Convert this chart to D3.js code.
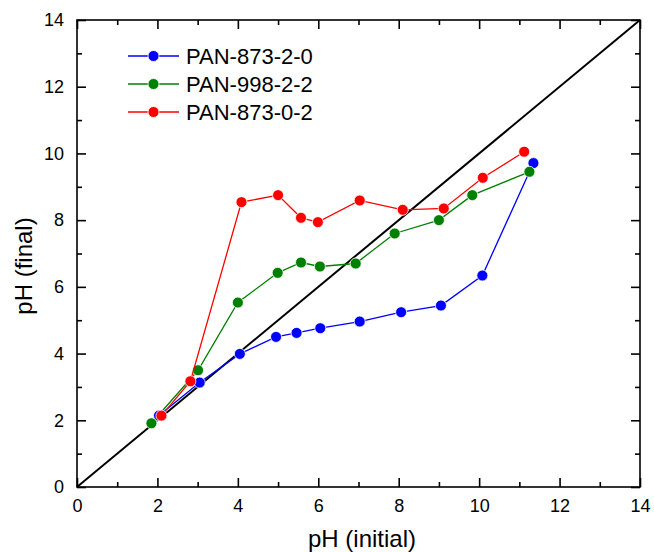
<!DOCTYPE html>
<html>
<head>
<meta charset="utf-8">
<script src="https://cdn.jsdelivr.net/npm/d3@7"></script>
<style>
  body { margin: 0; background: #fff; }
  text { font-family: Arial, "Liberation Sans", sans-serif; }
</style>
</head>
<body>
<svg width="654" height="552"></svg>
<script>
const svg = d3.select("svg");

const seriesNames = ["PAN-873-2-0", "PAN-998-2-2", "PAN-873-0-2"];
const seriesColors = ["#0000ff", "#008000", "#ff0000"];

const blueX = [2.04, 3.05, 4.05, 4.95, 5.46, 6.05, 7.03, 8.06, 9.05, 10.08, 11.35];
const blueY = [2.14, 3.13, 3.99, 4.5, 4.62, 4.76, 4.96, 5.24, 5.44, 6.34, 9.71];
const greenX = [1.85, 3.01, 4.0, 4.99, 5.57, 6.04, 6.93, 7.9, 9.0, 9.83, 11.25];
const greenY = [1.91, 3.5, 5.53, 6.42, 6.73, 6.61, 6.7, 7.6, 8.0, 8.75, 9.45];
const redX = [2.1, 2.82, 4.09, 5.0, 5.57, 5.99, 7.03, 8.1, 9.12, 10.09, 11.12];
const redY = [2.14, 3.17, 8.54, 8.75, 8.07, 7.94, 8.59, 8.31, 8.35, 9.27, 10.05];

const majorTicks = [0, 2, 4, 6, 8, 10, 12, 14];
const minorTicks = [1, 3, 5, 7, 9, 11, 13];

const series = [
  { name: seriesNames[0], color: seriesColors[0], xs: blueX, ys: blueY },
  { name: seriesNames[1], color: seriesColors[1], xs: greenX, ys: greenY },
  { name: seriesNames[2], color: seriesColors[2], xs: redX, ys: redY },
];

const margin = { top: 20, right: 14, bottom: 65, left: 77 };
const width = 654, height = 552;
const innerWidth = width - margin.left - margin.right;
const innerHeight = height - margin.top - margin.bottom;

const x = d3.scaleLinear().domain([0, 14]).range([0, innerWidth]);
const y = d3.scaleLinear().domain([0, 14]).range([innerHeight, 0]);

const g = svg.append("g").attr("transform", `translate(${margin.left},${margin.top})`);

// axes with inward ticks on all four sides
const addAxis = (axisFn, scale, vals, size, transform, labels) => {
  const a = g.append("g").attr("transform", transform)
    .call(axisFn(scale).tickValues(vals).tickSizeInner(-size).tickSizeOuter(0)
      .tickFormat(labels ? d3.format("d") : ""));
  a.select(".domain").remove();
  a.selectAll(".tick line").attr("stroke", "#000").attr("stroke-width", 1.6);
  return a;
};

const xb = addAxis(d3.axisBottom, x, majorTicks, 9, `translate(0,${innerHeight})`, true);
xb.selectAll("text").attr("y", 12).attr("font-size", 18).attr("fill", "#000");
addAxis(d3.axisBottom, x, minorTicks, 5, `translate(0,${innerHeight})`, false);
addAxis(d3.axisTop, x, majorTicks, 9, "translate(0,0)", false);
addAxis(d3.axisTop, x, minorTicks, 5, "translate(0,0)", false);

const yl = addAxis(d3.axisLeft, y, majorTicks, 9, "translate(0,0)", true);
yl.selectAll("text").attr("x", -13).attr("font-size", 18).attr("fill", "#000");
addAxis(d3.axisLeft, y, minorTicks, 5, "translate(0,0)", false);
addAxis(d3.axisRight, y, majorTicks, 9, `translate(${innerWidth},0)`, false);
addAxis(d3.axisRight, y, minorTicks, 5, `translate(${innerWidth},0)`, false);

g.append("rect")
  .attr("width", innerWidth).attr("height", innerHeight)
  .attr("fill", "none").attr("stroke", "#000").attr("stroke-width", 1.6);

// 1:1 line
g.append("line")
  .attr("x1", x(0)).attr("y1", y(0)).attr("x2", x(14)).attr("y2", y(14))
  .attr("stroke", "#000").attr("stroke-width", 2);

const line = d3.line().x((d) => x(d[0])).y((d) => y(d[1]));

series.forEach((s) => {
  const pts = s.xs.map((v, i) => [v, s.ys[i]]);
  g.append("path").datum(pts).attr("d", line)
    .attr("fill", "none").attr("stroke", s.color).attr("stroke-width", 1.3);
  g.append("g").selectAll("circle").data(pts).join("circle")
    .attr("cx", (d) => x(d[0])).attr("cy", (d) => y(d[1])).attr("r", 5.5)
    .attr("fill", s.color).attr("stroke", "#fff").attr("stroke-width", 0.8);
});

// legend
const legend = g.append("g").attr("transform", "translate(51,36)");
series.forEach((s, i) => {
  const row = legend.append("g").attr("transform", `translate(0,${i * 28})`);
  row.append("line").attr("x1", 0).attr("x2", 51).attr("stroke", s.color).attr("stroke-width", 1.3);
  row.append("circle").attr("cx", 25.5).attr("r", 5.5).attr("fill", s.color)
    .attr("stroke", "#fff").attr("stroke-width", 0.8);
  row.append("text").attr("x", 58).attr("dy", "0.35em").attr("font-size", 22).text(s.name);
});

// axis titles
svg.append("text")
  .attr("x", 362).attr("y", 547)
  .attr("text-anchor", "middle").attr("font-size", 24).text("pH (initial)");
svg.append("text")
  .attr("transform", "translate(32,266) rotate(-90)")
  .attr("text-anchor", "middle").attr("font-size", 24).text("pH (final)");
</script>
</body>
</html>
